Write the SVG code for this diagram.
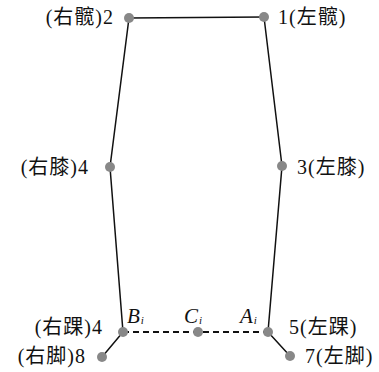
<svg xmlns="http://www.w3.org/2000/svg" width="379" height="372" viewBox="0 0 379 372">
<style>
.ln{stroke:#111;stroke-width:1.5;fill:none}
.dash{stroke:#111;stroke-width:2;stroke-dasharray:6,4;fill:none}
.pt{fill:#888}
text{font-family:"Liberation Serif","Noto Sans CJK SC",serif;font-size:20px;fill:#111}
.lb{letter-spacing:1px}
.it{font-style:italic;font-size:21px}
.sub{font-style:italic;font-size:11px}
</style>
<rect width="379" height="372" fill="#fff"/>
<g id="connectors">
<polyline class="ln" points="264,17 129,18 110,167 123,332 102,357"/>
<polyline class="ln" points="264,17 282,166 268,332 290,356"/>
<line class="dash" x1="123" y1="332" x2="268" y2="332"/>
</g>
<g id="n2"><circle class="pt" cx="129" cy="18" r="5"/><text class="lb" x="114" y="24" text-anchor="end">(右髋)2</text></g>
<g id="n1"><circle class="pt" cx="264" cy="17" r="5"/><text class="lb" x="278" y="24">1(左髋)</text></g>
<g id="n4k"><circle class="pt" cx="110" cy="167" r="5"/><text class="lb" x="89" y="174" text-anchor="end">(右膝)4</text></g>
<g id="n3"><circle class="pt" cx="282" cy="166" r="5"/><text class="lb" x="297" y="174">3(左膝)</text></g>
<g id="nB"><circle class="pt" cx="123" cy="332" r="5"/><text class="lb" x="103" y="334" text-anchor="end">(右踝)4</text><text class="it" x="127" y="323">B<tspan class="sub" dx="1" dy="1">i</tspan></text></g>
<g id="nC"><circle class="pt" cx="198" cy="332" r="5"/><text class="it" x="184" y="323">C<tspan class="sub" dx="1" dy="1">i</tspan></text></g>
<g id="nA"><circle class="pt" cx="268" cy="332" r="5"/><text class="lb" x="289" y="334">5(左踝)</text><text class="it" x="240" y="323">A<tspan class="sub" dx="1" dy="1">i</tspan></text></g>
<g id="n8"><circle class="pt" cx="102" cy="357" r="5"/><text class="lb" x="86" y="363" text-anchor="end">(右脚)8</text></g>
<g id="n7"><circle class="pt" cx="290" cy="356" r="5"/><text class="lb" x="305" y="363">7(左脚)</text></g>
</svg>
